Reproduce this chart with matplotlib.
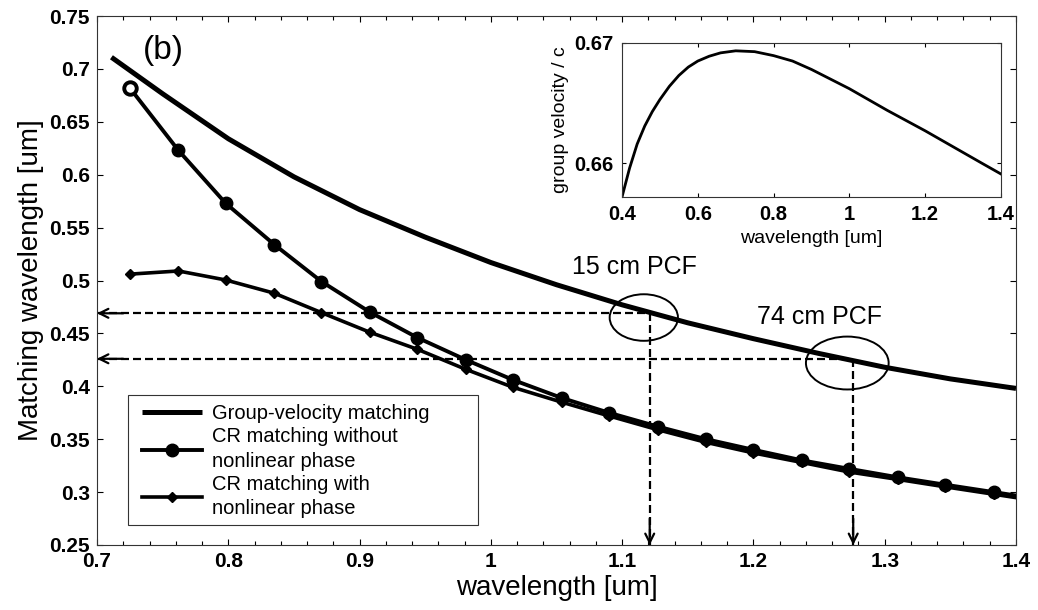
import matplotlib
matplotlib.use("Agg")
import matplotlib.pyplot as plt
from matplotlib.patches import Ellipse, Rectangle
from matplotlib.ticker import MultipleLocator, FuncFormatter

plt.rcParams['font.family'] = ['Liberation Sans', 'DejaVu Sans']

# Group-velocity matching curve (pump wavelength -> matched wavelength)
gv_wl = [0.711, 0.75, 0.80, 0.85, 0.90, 0.95, 1.00, 1.05, 1.10, 1.15, 1.20,
         1.25, 1.30, 1.35, 1.40]
gv_match = [0.711, 0.6765, 0.634, 0.598, 0.567, 0.541, 0.517, 0.496, 0.477,
            0.460, 0.445, 0.431, 0.418, 0.407, 0.398]

# Cherenkov-radiation matching, sampled pump wavelengths
cr_wl = [0.725, 0.762, 0.798, 0.835, 0.871, 0.908, 0.944, 0.981, 1.017,
         1.054, 1.090, 1.127, 1.164, 1.200, 1.237, 1.273, 1.310, 1.346,
         1.383, 1.420]
cr_no_nl = [0.682, 0.623, 0.573, 0.534, 0.499, 0.470, 0.446, 0.425, 0.406,
            0.389, 0.375, 0.362, 0.350, 0.340, 0.330, 0.322, 0.314, 0.307,
            0.300, 0.293]
cr_with_nl = [0.506, 0.509, 0.5005, 0.488, 0.4696, 0.451, 0.435, 0.416,
              0.399, 0.385, 0.372, 0.359, 0.347, 0.337, 0.328, 0.319, 0.312,
              0.305, 0.298, 0.291]

# Operating points for the two fibre lengths
pcf_labels = ['15 cm PCF', '74 cm PCF']
pcf_pump = [1.121, 1.276]
pcf_match = [0.469, 0.426]

# Inset: normalised group velocity of the fibre mode
inset_wl = [0.40, 0.42, 0.44, 0.46, 0.48, 0.50, 0.525, 0.55, 0.575, 0.60,
            0.63, 0.66, 0.70, 0.75, 0.80, 0.85, 0.90, 0.95, 1.00, 1.05,
            1.10, 1.15, 1.20, 1.25, 1.30, 1.35, 1.40]
inset_vg = [0.6572, 0.6596, 0.6616, 0.6631, 0.6643, 0.6653, 0.6664, 0.6673,
            0.6680, 0.6685, 0.6689, 0.66918, 0.66935, 0.66928, 0.66895,
            0.66850, 0.66780, 0.66700, 0.66620, 0.66530, 0.66440, 0.66355,
            0.66270, 0.66180, 0.66090, 0.66000, 0.65911]

main_xticks = [0.7, 0.8, 0.9, 1.0, 1.1, 1.2, 1.3, 1.4]
main_yticks = [0.25, 0.3, 0.35, 0.4, 0.45, 0.5, 0.55, 0.6, 0.65, 0.7, 0.75]
inset_xticks = [0.4, 0.6, 0.8, 1.0, 1.2, 1.4]
inset_yticks = [0.66, 0.67]


def matlab_fmt(v, pos=None):
    return ('%.4f' % v).rstrip('0').rstrip('.')


W, H = 1038, 610
fig = plt.figure(figsize=(W / 100, H / 100), dpi=100)
ax = fig.add_axes([97 / W, 65 / H, 919 / W, 529 / H])

ax.set_xlim(0.7, 1.4)
ax.set_ylim(0.25, 0.75)

# dashed guides from each operating point to both axes
dash = (0, (3.6, 1.8))
for xp, yp in zip(pcf_pump, pcf_match):
    ax.plot([0.7, xp], [yp, yp], color='k', lw=1.6, ls=dash, zorder=2)
    ax.plot([xp, xp], [yp, 0.25], color='k', lw=1.6, ls=dash, zorder=2)
    ax.annotate('', xy=(0.7, yp), xytext=(0.72, yp),
                arrowprops=dict(arrowstyle='->', lw=1.6, color='k',
                                mutation_scale=16, shrinkA=0, shrinkB=0))
    ax.annotate('', xy=(xp, 0.25), xytext=(xp, 0.275),
                arrowprops=dict(arrowstyle='->', lw=1.6, color='k',
                                mutation_scale=16, shrinkA=0, shrinkB=0))

l1, = ax.plot(gv_wl, gv_match, color='k', lw=3.6, solid_capstyle='butt',
              zorder=4, label='Group-velocity matching')
l2, = ax.plot(cr_wl, cr_no_nl, color='k', lw=2.8, marker='o', ms=9,
              zorder=4, label='CR matching without\nnonlinear phase')
ax.plot(cr_wl[0], cr_no_nl[0], marker='o', ms=9, mfc='white', mec='k',
        mew=2.8, ls='none', zorder=5)
l3, = ax.plot(cr_wl, cr_with_nl, color='k', lw=2.6, marker='D', ms=5.5,
              zorder=4, label='CR matching with\nnonlinear phase')

# ellipses marking the operating points, with their fibre length labels
ell_w = [0.052, 0.063]
ell_h = [0.044, 0.050]
text_off = [(-11, 33), (-24, 30)]
for lab, xp, yp, w, h, off in zip(pcf_labels, pcf_pump, pcf_match, ell_w,
                                  ell_h, text_off):
    ax.add_patch(Ellipse((xp - 0.0045, yp - 0.004), w, h, fill=False,
                         ec='k', lw=1.4, zorder=5))
    ax.annotate(lab, xy=(xp, yp), xytext=off, textcoords='offset points',
                ha='center', va='center', fontsize=18)

ax.text(0.0718, 0.934, '(b)', transform=ax.transAxes, fontsize=24,
        ha='center', va='center')

ax.set_xticks(main_xticks)
ax.set_yticks(main_yticks)
ax.xaxis.set_minor_locator(MultipleLocator(0.02))
ax.xaxis.set_major_formatter(FuncFormatter(matlab_fmt))
ax.yaxis.set_major_formatter(FuncFormatter(matlab_fmt))
ax.tick_params(which='both', direction='in', top=True, right=True,
               width=0.8)
ax.tick_params(which='major', length=4, labelsize=15, pad=5)
ax.tick_params(which='minor', length=3)
for t in ax.get_xticklabels() + ax.get_yticklabels():
    t.set_fontweight('bold')
for sp in ax.spines.values():
    sp.set_linewidth(0.8)
    sp.set_color('#333333')

ax.set_xlabel('wavelength [um]', fontsize=20, labelpad=3)
ax.set_ylabel('Matching wavelength [um]', fontsize=20, labelpad=4)

# legend: entries placed inside a wider box drawn separately
leg = ax.legend(handles=[l1, l2, l3], loc='lower left',
                bbox_to_anchor=(0.0413, 0.0378), borderaxespad=0,
                fontsize=14.5, handlelength=3.0, handletextpad=0.5,
                labelspacing=0.2, frameon=False, borderpad=0.35)
for t in leg.get_texts():
    t.set_linespacing(1.35)
ax.add_patch(Rectangle((0.0337, 0.0378), 0.3808, 0.2457,
                       transform=ax.transAxes, fill=True, fc='white',
                       ec='#333333', lw=0.8, zorder=6))
leg.set_zorder(7)

# inset: group velocity over wavelength
ins = fig.add_axes([622 / W, 1 - 197 / H, 379 / W, 154 / H])
ins.plot(inset_wl, inset_vg, color='k', lw=2.0)
ins.set_xlim(0.4, 1.4)
ins.set_ylim(0.6572, 0.67)
ins.set_xticks(inset_xticks)
ins.set_yticks(inset_yticks)
ins.xaxis.set_major_formatter(FuncFormatter(matlab_fmt))
ins.yaxis.set_major_formatter(FuncFormatter(matlab_fmt))
ins.tick_params(direction='in', top=True, right=True, length=3,
                width=0.8, labelsize=14.5, pad=6)
for t in ins.get_xticklabels() + ins.get_yticklabels():
    t.set_fontweight('bold')
for sp in ins.spines.values():
    sp.set_linewidth(0.8)
    sp.set_color('#333333')
ins.set_xlabel('wavelength [um]', fontsize=14, labelpad=4)
ins.set_ylabel('group velocity / c', fontsize=14, labelpad=4)

fig.savefig('out.png', dpi=100)
